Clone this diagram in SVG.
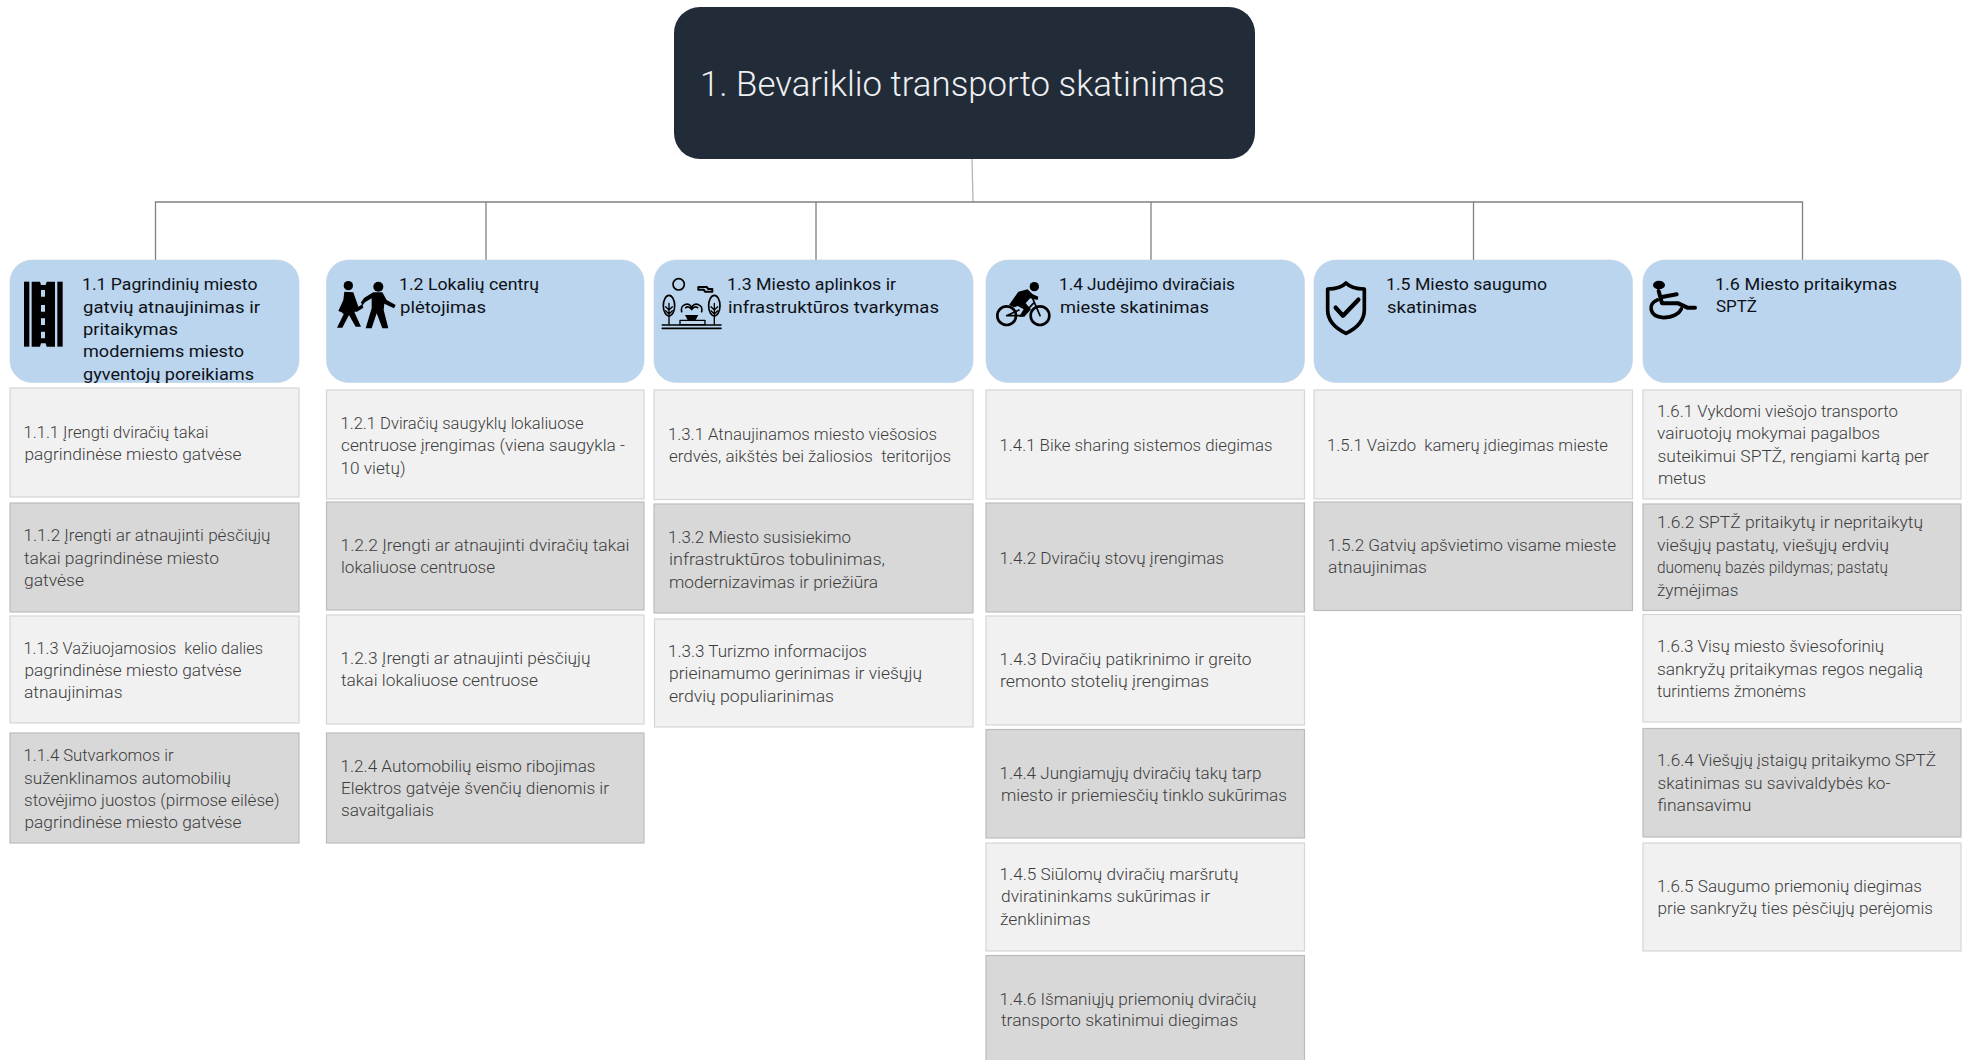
<svg xmlns="http://www.w3.org/2000/svg" width="1966" height="1060" viewBox="0 0 1966 1060">
<style>
text{font-family:"Roboto","Liberation Sans",sans-serif;white-space:pre}
.h{font-size:17px;fill:#0d1117;font-weight:400;transform:translate(-1px,-.7px)}
.t{font-size:17px;fill:#3c3c3c;font-weight:300;transform:translate(-1px,-1.4px)}
.root{font-size:35px;fill:#eef0f2;font-weight:300}
.b{fill:#bbd5ee;stroke:#bfd2e4;stroke-width:.6}
.l{fill:#f1f1f1;stroke:#d6d6d6;stroke-width:1.2}
.d{fill:#d8d8d8;stroke:#bcbcbc;stroke-width:1.2}
.c{fill:none;stroke:#808080;stroke-width:1.3}
.k{fill:#000}
.s{fill:none;stroke:#000;stroke-linecap:round;stroke-linejoin:round}
</style>
<g id="connectors">
<path d="M972 159L973 202" fill="none" stroke="#b5b5b5" stroke-width="1.3"/>
<path class="c" d="M155.500 260V202H1802.500V260M486 202V260M816 202V260M1151 202V260M1473.500 202V260"/>
</g>
<g id="root"><rect x="674" y="7" width="581" height="152" rx="26" fill="#222b38"/>
<text class="root" x="700" y="96" textLength="525" lengthAdjust="spacingAndGlyphs">1. Bevariklio transporto skatinimas</text></g>

<g id="n1-1"><rect class="b" x="10" y="260" width="289" height="122.500" rx="22"/>
<g transform="translate(0 255) scale(.3333)"><rect class="k" x="72" y="80" width="16" height="195"/><rect class="k" x="172" y="80" width="16" height="195"/><path class="k" d="M95 80H120L123 90H137L140 80H165V275H140L137 265H123L120 275H95Z"/><path d="M123 105h12v20h-12zM123 150h12v20h-12zM123 190h12v20h-12zM123 230h12v20h-12z" fill="#bbd5ee"/></g>
<text class="h" x="83" y="291" textLength="175.500" lengthAdjust="spacingAndGlyphs">1.1 Pagrindinių miesto</text>
<text class="h" x="84" y="313.500" textLength="177" lengthAdjust="spacingAndGlyphs">gatvių atnaujinimas ir</text>
<text class="h" x="84" y="336" textLength="95" lengthAdjust="spacingAndGlyphs">pritaikymas</text>
<text class="h" x="84" y="358" textLength="161" lengthAdjust="spacingAndGlyphs">moderniems miesto</text>
<text class="h" x="84" y="381" textLength="171" lengthAdjust="spacingAndGlyphs">gyventojų poreikiams</text></g>

<g id="n1-2"><rect class="b" x="326.500" y="260" width="317.500" height="122.500" rx="22"/>
<g transform="translate(325 265) scale(.3333)"><circle class="k" cx="70" cy="62" r="14"/><circle class="k" cx="160" cy="65" r="15"/>
<path class="k" d="M58 80L85 82L100 125L112 118L115 128L96 140L88 140L92 150L108 185H92L72 150L52 188H36L56 148L50 142L40 138L55 105Z"/>
<path class="k" d="M145 82L172 82L185 105L212 120L207 130L178 116L176 135L190 190H172L155 145L140 190H122L140 130L140 100L120 112L112 122L108 112L118 98Z"/></g>
<text class="h" x="400" y="291" textLength="140" lengthAdjust="spacingAndGlyphs">1.2 Lokalių centrų</text>
<text class="h" x="401" y="313.500" textLength="86" lengthAdjust="spacingAndGlyphs">plėtojimas</text></g>

<g id="n1-3"><rect class="b" x="654" y="260" width="319" height="122.500" rx="22"/>
<g transform="translate(655 265) scale(.3333)"><circle class="s" cx="71" cy="58" r="17" stroke-width="5"/>
<path class="s" stroke-width="6" d="M130 66H155L160 72H172V80H150L146 74H130Z"/>
<ellipse class="s" cx="42" cy="122" rx="17" ry="31" stroke-width="5"/><ellipse class="s" cx="178" cy="122" rx="17" ry="31" stroke-width="5"/>
<path class="s" stroke-width="4" d="M42 115V178M32 125L42 135L52 125M32 137L42 147L52 137M178 115V178M168 125L178 135L188 125M168 137L178 147L188 137"/>
<path class="s" stroke-width="5" d="M80 140C74 118 104 108 110 128C116 108 146 118 140 140M92 128C100 122 106 128 110 134C114 128 120 122 128 128"/>
<path class="k" d="M90 150H130L122 165H98Z"/>
<rect class="s" x="75" y="166" width="75" height="13" stroke-width="4"/><path class="s" stroke-width="5" d="M22 180H198M22 190H198"/></g>
<text class="h" x="728" y="291" textLength="169" lengthAdjust="spacingAndGlyphs">1.3 Miesto aplinkos ir</text>
<text class="h" x="729" y="313.500" textLength="211" lengthAdjust="spacingAndGlyphs">infrastruktūros tvarkymas</text></g>

<g id="n1-4"><rect class="b" x="986" y="260" width="318.500" height="122.500" rx="22"/>
<g transform="translate(985 270) scale(.3333)"><circle class="k" cx="148" cy="50" r="14"/><circle class="s" cx="65" cy="137" r="28" stroke-width="8"/><circle class="s" cx="165" cy="137" r="28" stroke-width="8"/>
<path class="k" d="M72 105L100 65L128 58L142 72L160 80L158 90L135 85L122 100L138 118L118 140H102L116 118L98 108L88 112Z"/>
<path class="s" stroke-width="5" d="M65 137L102 120M165 137L143 85M65 137H110L145 100"/></g>
<text class="h" x="1060" y="291" textLength="176" lengthAdjust="spacingAndGlyphs">1.4 Judėjimo dviračiais</text>
<text class="h" x="1061" y="313.500" textLength="149" lengthAdjust="spacingAndGlyphs">mieste skatinimas</text></g>

<g id="n1-5"><rect class="b" x="1314" y="260" width="318.500" height="122.500" rx="22"/>
<g transform="translate(1315 265) scale(.3333)"><path class="s" stroke-width="11" d="M93 54C104 66 125 72 148 72V135C148 170 120 192 93 205C66 192 38 170 38 135V72C61 72 82 66 93 54Z"/>
<path class="s" stroke-width="13" d="M62 128L84 152L130 104"/></g>
<text class="h" x="1387" y="291" textLength="161" lengthAdjust="spacingAndGlyphs">1.5 Miesto saugumo</text>
<text class="h" x="1388" y="313.500" textLength="90" lengthAdjust="spacingAndGlyphs">skatinimas</text></g>

<g id="n1-6"><rect class="b" x="1643" y="260" width="318" height="122.500" rx="22"/>
<g transform="translate(1640 265) scale(.3333)"><ellipse class="k" cx="57" cy="60" rx="18" ry="13"/>
<path class="s" stroke-width="12" d="M56 78L66 115H115L142 128L165 128M66 96L110 88"/>
<path class="s" stroke-width="11" d="M52 105C24 115 25 155 70 158C100 158 118 145 124 132"/></g>
<text class="h" x="1716" y="291" textLength="182" lengthAdjust="spacingAndGlyphs">1.6 Miesto pritaikymas</text>
<text class="h" x="1717" y="313" textLength="41" lengthAdjust="spacingAndGlyphs">SPTŽ</text></g>

<g id="n1-1-1"><rect class="l" x="10" y="388" width="289" height="109"/><text class="t" x="24.500" y="439" textLength="185" lengthAdjust="spacingAndGlyphs">1.1.1 Įrengti dviračių takai</text><text class="t" x="25.500" y="461.500" textLength="217" lengthAdjust="spacingAndGlyphs">pagrindinėse miesto gatvėse</text></g>
<g id="n1-1-2"><rect class="d" x="10" y="503" width="289" height="109"/><text class="t" x="24.500" y="542.500" textLength="247" lengthAdjust="spacingAndGlyphs">1.1.2 Įrengti ar atnaujinti pėsčiųjų</text><text class="t" x="25" y="565" textLength="195" lengthAdjust="spacingAndGlyphs">takai pagrindinėse miesto</text><text class="t" x="25" y="587" textLength="60" lengthAdjust="spacingAndGlyphs">gatvėse</text></g>
<g id="n1-1-3"><rect class="l" x="10" y="616" width="289" height="107"/><text class="t" x="24.500" y="655" textLength="239.500" lengthAdjust="spacingAndGlyphs">1.1.3 Važiuojamosios  kelio dalies</text><text class="t" x="25.500" y="677.500" textLength="217" lengthAdjust="spacingAndGlyphs">pagrindinėse miesto gatvėse</text><text class="t" x="25" y="699.500" textLength="98.500" lengthAdjust="spacingAndGlyphs">atnaujinimas</text></g>
<g id="n1-1-4"><rect class="d" x="10" y="733" width="289" height="110"/><text class="t" x="24.500" y="762.500" textLength="150" lengthAdjust="spacingAndGlyphs">1.1.4 Sutvarkomos ir</text><text class="t" x="25" y="785" textLength="207" lengthAdjust="spacingAndGlyphs">suženklinamos automobilių</text><text class="t" x="25" y="807" textLength="255.500" lengthAdjust="spacingAndGlyphs">stovėjimo juostos (pirmose eilėse)</text><text class="t" x="25.500" y="829.500" textLength="217" lengthAdjust="spacingAndGlyphs">pagrindinėse miesto gatvėse</text></g>

<g id="n1-2-1"><rect class="l" x="326.500" y="390" width="317.500" height="109"/><text class="t" x="341.500" y="430" textLength="243" lengthAdjust="spacingAndGlyphs">1.2.1 Dviračių saugyklų lokaliuose</text><text class="t" x="342" y="452" textLength="284" lengthAdjust="spacingAndGlyphs">centruose įrengimas (viena saugykla -</text><text class="t" x="341.500" y="475" textLength="65" lengthAdjust="spacingAndGlyphs">10 vietų)</text></g>
<g id="n1-2-2"><rect class="d" x="326.500" y="502" width="317.500" height="108"/><text class="t" x="341.500" y="552.500" textLength="289" lengthAdjust="spacingAndGlyphs">1.2.2 Įrengti ar atnaujinti dviračių takai</text><text class="t" x="342" y="574.500" textLength="154" lengthAdjust="spacingAndGlyphs">lokaliuose centruose</text></g>
<g id="n1-2-3"><rect class="l" x="326.500" y="615" width="317.500" height="109"/><text class="t" x="341.500" y="665.500" textLength="250" lengthAdjust="spacingAndGlyphs">1.2.3 Įrengti ar atnaujinti pėsčiųjų</text><text class="t" x="342" y="687.500" textLength="197" lengthAdjust="spacingAndGlyphs">takai lokaliuose centruose</text></g>
<g id="n1-2-4"><rect class="d" x="326.500" y="733" width="317.500" height="110"/><text class="t" x="341.500" y="773" textLength="255" lengthAdjust="spacingAndGlyphs">1.2.4 Automobilių eismo ribojimas</text><text class="t" x="342" y="795" textLength="268" lengthAdjust="spacingAndGlyphs">Elektros gatvėje švenčių dienomis ir</text><text class="t" x="342" y="817.500" textLength="93" lengthAdjust="spacingAndGlyphs">savaitgaliais</text></g>

<g id="n1-3-1"><rect class="l" x="654" y="390" width="319" height="109.500"/><text class="t" x="669" y="441" textLength="269" lengthAdjust="spacingAndGlyphs">1.3.1 Atnaujinamos miesto viešosios</text><text class="t" x="670" y="463" textLength="282" lengthAdjust="spacingAndGlyphs">erdvės, aikštės bei žaliosios  teritorijos</text></g>
<g id="n1-3-2"><rect class="d" x="654" y="504" width="319" height="109"/><text class="t" x="669" y="544" textLength="183" lengthAdjust="spacingAndGlyphs">1.3.2 Miesto susisiekimo</text><text class="t" x="670" y="566" textLength="216" lengthAdjust="spacingAndGlyphs">infrastruktūros tobulinimas,</text><text class="t" x="670" y="589" textLength="209" lengthAdjust="spacingAndGlyphs">modernizavimas ir priežiūra</text></g>
<g id="n1-3-3"><rect class="l" x="654.500" y="619" width="318.500" height="108"/><text class="t" x="669" y="658" textLength="199" lengthAdjust="spacingAndGlyphs">1.3.3 Turizmo informacijos</text><text class="t" x="670" y="680" textLength="253" lengthAdjust="spacingAndGlyphs">prieinamumo gerinimas ir viešųjų</text><text class="t" x="670" y="703" textLength="165" lengthAdjust="spacingAndGlyphs">erdvių populiarinimas</text></g>

<g id="n1-4-1"><rect class="l" x="986" y="390" width="318.500" height="109"/><text class="t" x="1000.500" y="452" textLength="273" lengthAdjust="spacingAndGlyphs">1.4.1 Bike sharing sistemos diegimas</text></g>
<g id="n1-4-2"><rect class="d" x="986" y="503" width="318.500" height="109"/><text class="t" x="1000.500" y="565" textLength="224.500" lengthAdjust="spacingAndGlyphs">1.4.2 Dviračių stovų įrengimas</text></g>
<g id="n1-4-3"><rect class="l" x="986" y="616" width="318.500" height="109"/><text class="t" x="1000.500" y="666" textLength="252" lengthAdjust="spacingAndGlyphs">1.4.3 Dviračių patikrinimo ir greito</text><text class="t" x="1001" y="688" textLength="209" lengthAdjust="spacingAndGlyphs">remonto stotelių įrengimas</text></g>
<g id="n1-4-4"><rect class="d" x="986" y="729.500" width="318.500" height="108.500"/><text class="t" x="1000.500" y="780" textLength="262" lengthAdjust="spacingAndGlyphs">1.4.4 Jungiamųjų dviračių takų tarp</text><text class="t" x="1002" y="802" textLength="286" lengthAdjust="spacingAndGlyphs">miesto ir priemiesčių tinklo sukūrimas</text></g>
<g id="n1-4-5"><rect class="l" x="986" y="843" width="318.500" height="108"/><text class="t" x="1000.500" y="881" textLength="239" lengthAdjust="spacingAndGlyphs">1.4.5 Siūlomų dviračių maršrutų</text><text class="t" x="1002" y="903.500" textLength="209" lengthAdjust="spacingAndGlyphs">dviratininkams sukūrimas ir</text><text class="t" x="1001" y="926" textLength="90.500" lengthAdjust="spacingAndGlyphs">ženklinimas</text></g>
<g id="n1-4-6"><rect class="d" x="986" y="955.500" width="318.500" height="110"/><text class="t" x="1000.500" y="1006" textLength="257" lengthAdjust="spacingAndGlyphs">1.4.6 Išmaniųjų priemonių dviračių</text><text class="t" x="1002" y="1027.500" textLength="237" lengthAdjust="spacingAndGlyphs">transporto skatinimui diegimas</text></g>

<g id="n1-5-1"><rect class="l" x="1314" y="390" width="318.500" height="109"/><text class="t" x="1328" y="452" textLength="281" lengthAdjust="spacingAndGlyphs">1.5.1 Vaizdo  kamerų įdiegimas mieste</text></g>
<g id="n1-5-2"><rect class="d" x="1314" y="502" width="318.500" height="108.500"/><text class="t" x="1328.500" y="552" textLength="288.500" lengthAdjust="spacingAndGlyphs">1.5.2 Gatvių apšvietimo visame mieste</text><text class="t" x="1329" y="574" textLength="99" lengthAdjust="spacingAndGlyphs">atnaujinimas</text></g>

<g id="n1-6-1"><rect class="l" x="1643" y="390" width="318" height="109"/><text class="t" x="1658" y="418" textLength="241" lengthAdjust="spacingAndGlyphs">1.6.1 Vykdomi viešojo transporto</text><text class="t" x="1658" y="440" textLength="223" lengthAdjust="spacingAndGlyphs">vairuotojų mokymai pagalbos</text><text class="t" x="1658.500" y="463" textLength="271.500" lengthAdjust="spacingAndGlyphs">suteikimui SPTŽ, rengiami kartą per</text><text class="t" x="1659" y="485" textLength="48" lengthAdjust="spacingAndGlyphs">metus</text></g>
<g id="n1-6-2"><rect class="d" x="1643" y="504" width="318" height="106.500"/><text class="t" x="1658" y="529" textLength="266" lengthAdjust="spacingAndGlyphs">1.6.2 SPTŽ pritaikytų ir nepritaikytų</text><text class="t" x="1658" y="552" textLength="232" lengthAdjust="spacingAndGlyphs">viešųjų pastatų, viešųjų erdvių</text><text class="t" x="1658" y="574" textLength="231" lengthAdjust="spacingAndGlyphs">duomenų bazės pildymas; pastatų</text><text class="t" x="1658" y="597" textLength="81.500" lengthAdjust="spacingAndGlyphs">žymėjimas</text></g>
<g id="n1-6-3"><rect class="l" x="1643" y="614.500" width="318" height="107.500"/><text class="t" x="1658" y="653" textLength="227" lengthAdjust="spacingAndGlyphs">1.6.3 Visų miesto šviesoforinių</text><text class="t" x="1658" y="676" textLength="266" lengthAdjust="spacingAndGlyphs">sankryžų pritaikymas regos negalią</text><text class="t" x="1658" y="698" textLength="149" lengthAdjust="spacingAndGlyphs">turintiems žmonėms</text></g>
<g id="n1-6-4"><rect class="d" x="1643" y="728.500" width="318" height="108.500"/><text class="t" x="1658" y="767.500" textLength="279" lengthAdjust="spacingAndGlyphs">1.6.4 Viešųjų įstaigų pritaikymo SPTŽ</text><text class="t" x="1658.500" y="790" textLength="233" lengthAdjust="spacingAndGlyphs">skatinimas su savivaldybės ko-</text><text class="t" x="1658.500" y="812" textLength="94" lengthAdjust="spacingAndGlyphs">finansavimu</text></g>
<g id="n1-6-5"><rect class="l" x="1643" y="843" width="318" height="108"/><text class="t" x="1658" y="893" textLength="265" lengthAdjust="spacingAndGlyphs">1.6.5 Saugumo priemonių diegimas</text><text class="t" x="1658.500" y="915" textLength="275.500" lengthAdjust="spacingAndGlyphs">prie sankryžų ties pėsčiųjų perėjomis</text></g>
</svg>
